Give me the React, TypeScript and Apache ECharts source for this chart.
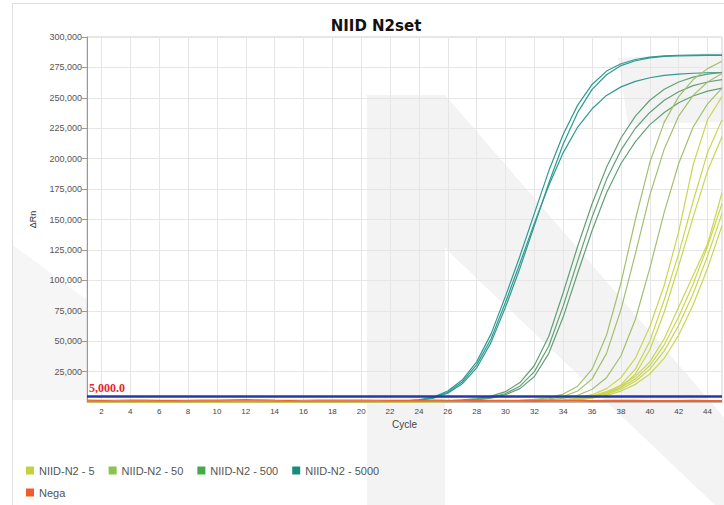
import React, { useEffect, useRef } from "react";
import * as echarts from "echarts";

// Cycle numbers (x)
const cycles = [1,2,3,4,5,6,7,8,9,10,11,12,13,14,15,16,17,18,19,20,21,22,23,24,25,26,27,28,29,30,31,32,33,34,35,36,37,38,39,40,41,42,43,44,45];
const xTickLabels = [2,4,6,8,10,12,14,16,18,20,22,24,26,28,30,32,34,36,38,40,42,44];
const groupNames = ["NIID-N2 - 5", "NIID-N2 - 50", "NIID-N2 - 500", "NIID-N2 - 5000", "Nega"];
const threshold = 5000;

// NIID-N2 - 5000 (teal)
const teal1 = [300,250,200,200,150,200,250,200,150,200,200,250,200,150,200,250,200,200,250,300,300,500,900,1800,4000,9000,18000,33000,56000,87000,120000,155000,190000,220000,244000,261000,272000,278000,281500,283500,284500,285000,285200,285300,285300];
const teal2 = [250,200,200,150,200,250,200,200,150,200,250,200,200,150,200,200,250,200,200,250,250,400,700,1400,3200,7200,15000,28000,49000,78000,110000,145000,180000,212000,238000,257000,269000,276500,280500,282800,284000,284500,284700,284800,284800];
const teal3 = [200,200,250,200,150,200,200,250,200,150,200,200,250,200,150,200,200,250,200,250,300,450,800,1600,3600,8000,16500,30500,52000,82000,114000,147000,178000,205000,226000,241000,252000,259000,263500,266500,268500,269500,270200,270600,270800];

// NIID-N2 - 500
const g500a = [200,250,200,150,200,200,250,200,150,200,200,250,200,200,150,200,250,200,200,250,300,300,350,450,600,1000,1700,2800,4800,8500,16000,30000,54000,90000,128000,163000,193000,217000,235000,248000,257000,263000,267000,269500,271000];
const g500b = [200,200,250,200,150,200,200,250,200,150,200,200,250,200,150,200,200,250,200,200,250,300,350,400,500,800,1300,2200,3800,7000,13000,25000,46000,79000,116000,152000,183000,207000,225000,238000,248000,255000,260000,263000,265000];
const g500c = [250,200,200,150,200,250,200,200,150,200,250,200,200,150,200,200,250,200,200,250,250,300,300,350,450,600,1000,1800,3200,6000,11000,21000,40000,70000,106000,141000,172000,196000,214000,228000,238000,246000,251500,255500,258000];

// NIID-N2 - 50
const g50a = [200,250,200,200,150,200,250,200,200,150,200,250,200,200,150,200,250,200,200,250,250,300,300,350,350,400,450,500,600,900,1400,2200,3500,6500,13000,27000,55000,98000,150000,197000,230000,251000,265000,274000,280000];
const g50b = [250,200,200,150,200,250,200,200,150,200,250,200,200,150,200,200,250,200,200,250,250,300,300,350,350,400,400,450,500,600,1000,1600,2600,4500,9000,19000,40000,76000,122000,170000,208000,235000,252000,263000,270000];
const g50c = [200,200,250,200,150,200,200,250,200,150,200,200,250,200,150,200,200,250,200,200,250,250,300,300,350,350,400,400,450,500,600,1000,1700,3000,5500,10500,20000,38000,68000,110000,156000,196000,226000,245000,258000];

// NIID-N2 - 5
const g5a = [200,250,200,200,150,200,250,200,200,150,200,250,200,200,150,200,250,200,200,250,250,300,300,350,350,400,400,450,450,500,500,600,1000,1800,3200,6000,11000,20000,36000,62000,96000,140000,195000,232000,251000];
const g5b = [250,200,200,150,200,250,200,200,150,200,250,200,200,150,200,200,250,200,200,250,250,300,300,350,350,400,400,450,450,500,500,550,600,1100,2000,3800,7500,14000,27000,50000,84000,122000,165000,205000,232000];
const g5c = [200,200,250,200,150,200,200,250,200,150,200,200,250,200,150,200,200,250,200,200,250,250,300,300,350,350,400,400,450,450,500,500,500,900,1700,3200,6300,12000,23000,43000,74000,112000,152000,190000,218000];
const g5d = [250,200,200,150,200,250,200,200,150,200,250,200,200,150,200,200,250,200,200,250,250,300,300,350,350,400,400,450,450,500,500,600,850,1500,2800,5000,8500,13500,21000,33000,52000,78000,104000,130000,172000];
const g5e = [200,250,200,200,150,200,250,200,200,150,200,250,200,200,150,200,250,200,200,250,250,300,300,350,350,400,400,450,450,500,500,550,700,1300,2500,4500,7500,12000,19000,30000,47000,70000,97000,128000,163000];
const g5f = [200,200,250,200,150,200,200,250,200,150,200,200,250,200,150,200,200,250,200,200,250,250,300,300,350,350,400,400,450,450,500,550,700,1200,2200,4000,6500,10500,17000,27000,42000,63000,89000,120000,155000];
const g5g = [250,200,200,150,200,250,200,200,150,200,250,200,200,150,200,200,250,200,200,250,250,300,300,350,350,400,400,450,450,500,500,550,650,1000,1900,3300,5500,9000,14500,23000,36000,55000,80000,110000,145000];

// Nega
const nega1 = [1500,1400,1450,1500,1550,1400,1350,1450,1500,1600,1800,1900,1700,1500,1400,1450,1500,1550,1600,1500,1450,1400,1350,1400,1500,1450,1400,1350,1300,1350,1400,1450,1400,1350,1300,1250,1300,1350,1300,1250,1200,1250,1300,1250,1200];
const nega2 = [700,650,600,650,700,650,600,650,700,750,900,1000,850,700,650,600,650,700,800,750,700,650,600,650,700,650,600,550,600,650,600,550,600,650,600,550,500,550,600,550,500,550,600,550,500];

const legendColors = ["#c3d23c", "#8cc34a", "#45a84a", "#198c80", "#f15a29"];
const lineColors = ["#cad651", "#a2c06e", "#62a077", "#2f9a91", "#f0652e"];

const groups: { g: number; data: number[][] }[] = [
  { g: 3, data: [teal1, teal2, teal3] },
  { g: 2, data: [g500a, g500b, g500c] },
  { g: 1, data: [g50a, g50b, g50c] },
  { g: 0, data: [g5a, g5b, g5c, g5d, g5e, g5f, g5g] },
  { g: 4, data: [nega1, nega2] },
];

const wm = "#f3f3f3";

export default function App() {
  const ref = useRef<HTMLDivElement>(null);
  useEffect(() => {
    if (!ref.current) return;
    const chart = echarts.init(ref.current, undefined, { renderer: "svg" });
    const series: any[] = [];
    groups.forEach(({ g, data }) => {
      data.forEach((vals) => {
        series.push({
          type: "line",
          name: groupNames[g],
          data: cycles.map((c, i) => [c, vals[i]]),
          showSymbol: false,
          symbol: "none",
          smooth: false,
          clip: true,
          itemStyle: { color: legendColors[g] },
          lineStyle: { color: lineColors[g], width: 1.2 },
          z: g === 4 ? 3 : 2,
        });
      });
    });
    series.push({
      type: "line",
      name: "threshold",
      data: [],
      markLine: {
        silent: true,
        symbol: ["none", "none"],
        data: [{ yAxis: threshold }],
        lineStyle: { color: "#2638a8", width: 2.5, type: "solid" },
        label: {
          show: true,
          position: "insideStartTop",
          formatter: "5,000.0",
          color: "#e3262c",
          fontFamily: "Liberation Serif",
          fontWeight: "bold",
          fontSize: 12,
          distance: 2,
        },
      },
      z: 4,
    });

    chart.setOption({
      animation: false,
      backgroundColor: "#ffffff",
      title: {
        text: "NIID N2set",
        left: 376,
        textAlign: "center",
        top: 18,
        padding: 0,
        textStyle: { fontFamily: "DejaVu Sans", fontWeight: "bold", fontSize: 15, color: "#111" },
      },
      graphic: [
        // faint background watermark
        { type: "polygon", shape: { points: [[367, 95], [445, 95], [445, 505], [367, 505]] }, style: { fill: wm }, z: -10, silent: true },
        { type: "polygon", shape: { points: [[367, 95], [445, 95], [800, 505], [715, 505], [447, 250]] }, style: { fill: wm }, z: -10, silent: true },
        { type: "polygon", shape: { points: [[618, 58], [724, 52], [724, 122], [628, 124]] }, style: { fill: wm }, z: -10, silent: true },
        { type: "polygon", shape: { points: [[13, 245], [87, 300], [87, 400], [13, 400]] }, style: { fill: "#f6f6f6" }, z: -10, silent: true },
        // outer frame
        { type: "line", shape: { x1: 12.5, y1: 3.5, x2: 724, y2: 3.5 }, style: { stroke: "#dedede", lineWidth: 1 }, z: 0 },
        { type: "line", shape: { x1: 12.5, y1: 3.5, x2: 12.5, y2: 505 }, style: { stroke: "#dedede", lineWidth: 1 }, z: 0 },
      ],
      legend: [
        {
          data: groupNames.slice(0, 4),
          left: 26,
          top: 465,
          icon: "rect",
          itemWidth: 8,
          itemHeight: 8,
          itemGap: 14,
          padding: 0,
          textStyle: { fontSize: 11, color: "#555", fontFamily: "Liberation Sans" },
        },
        {
          data: [groupNames[4]],
          left: 26,
          top: 487,
          icon: "rect",
          itemWidth: 8,
          itemHeight: 8,
          padding: 0,
          textStyle: { fontSize: 11, color: "#555", fontFamily: "Liberation Sans" },
        },
      ],
      grid: { left: 87, top: 37, right: 2, bottom: 103, show: true, borderColor: "#cfcfcf", borderWidth: 1 },
      xAxis: {
        type: "value",
        min: 1,
        max: 45,
        name: "Cycle",
        nameLocation: "middle",
        nameGap: 15,
        nameTextStyle: { fontSize: 10, color: "#444", fontFamily: "Liberation Sans" },
        axisLine: { show: true, lineStyle: { color: "#bbb" } },
        axisTick: { show: false, customValues: xTickLabels },
        axisLabel: { customValues: xTickLabels, fontSize: 8, color: "#444", margin: 5, fontFamily: "Liberation Sans" },
        splitLine: { show: true, lineStyle: { color: "#e6e6e6", width: 1 } },
      },
      yAxis: {
        type: "value",
        min: 0,
        max: 300000,
        interval: 25000,
        name: "ΔRn",
        nameLocation: "middle",
        nameGap: 50,
        nameTextStyle: { fontSize: 9, color: "#333", fontFamily: "Liberation Sans" },
        axisLine: { show: true, lineStyle: { color: "#999" } },
        axisTick: { show: true, length: 5, lineStyle: { color: "#999" } },
        axisLabel: {
          fontSize: 9,
          color: "#555",
          margin: 5,
          showMinLabel: false,
          fontFamily: "Liberation Sans",
          formatter: (v: number) => v.toLocaleString("en-US"),
        },
        splitLine: { show: true, lineStyle: { color: "#e6e6e6", width: 1 } },
      },
      series,
    });
    return () => chart.dispose();
  }, []);
  return <div ref={ref} style={{ position: "absolute", left: 0, top: 0, width: 724, height: 505 }} />;
}
